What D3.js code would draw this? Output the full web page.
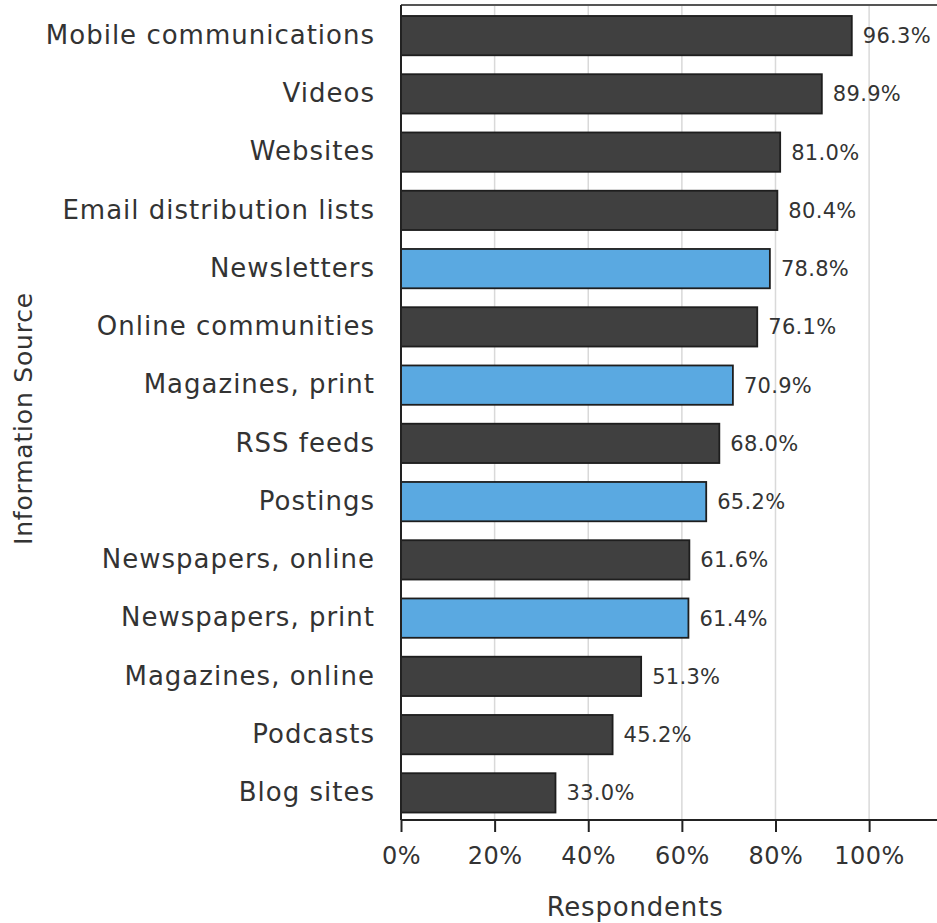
<!DOCTYPE html>
<html>
<head>
<meta charset="utf-8">
<script src="https://cdn.jsdelivr.net/npm/d3@7"></script>
<style>
  html, body { margin: 0; padding: 0; background: #fff; }
  svg { display: block; }
  text { font-family: "DejaVu Sans", "Century Gothic", sans-serif; fill: #333; }
</style>
</head>
<body>
<script>
// Information sources, top to bottom
const categories = [
  "Mobile communications", "Videos", "Websites", "Email distribution lists",
  "Newsletters", "Online communities", "Magazines, print", "RSS feeds",
  "Postings", "Newspapers, online", "Newspapers, print", "Magazines, online",
  "Podcasts", "Blog sites"
];
// Share of respondents (%)
const values = [96.3, 89.9, 81.0, 80.4, 78.8, 76.1, 70.9, 68.0, 65.2, 61.6, 61.4, 51.3, 45.2, 33.0];
// Highlighted (print / traditional) sources
const highlighted = ["Newsletters", "Magazines, print", "Postings", "Newspapers, print"];
const xTicks = [0, 20, 40, 60, 80, 100];

const W = 937, H = 923;
const plotLeft = 401, plotRight = 937, plotTop = 5, plotBottom = 820;

const svg = d3.select("body").append("svg").attr("width", W).attr("height", H);

const x = d3.scaleLinear().domain([0, 114.5]).range([plotLeft, plotRight]);
const y = d3.scaleBand().domain(categories).range([6.5, 822])
  .paddingInner(0.325).paddingOuter(0.1625);

// vertical gridlines
svg.append("g").selectAll("line").data(xTicks.slice(1)).join("line")
  .attr("x1", d => x(d)).attr("x2", d => x(d))
  .attr("y1", plotTop).attr("y2", plotBottom)
  .attr("stroke", "#d9d9d9").attr("stroke-width", 1.5);

// bars
svg.append("g").selectAll("rect").data(values).join("rect")
  .attr("x", x(0))
  .attr("y", (d, i) => y(categories[i]))
  .attr("width", d => x(d) - x(0))
  .attr("height", y.bandwidth())
  .attr("fill", (d, i) => highlighted.includes(categories[i]) ? "#5aa9e1" : "#404040")
  .attr("stroke", "#1e1e1e").attr("stroke-width", 1.8);

// value labels
svg.append("g").selectAll("text").data(values).join("text")
  .attr("x", d => x(d) + 11)
  .attr("y", (d, i) => y(categories[i]) + y.bandwidth() / 2)
  .attr("dy", "0.36em")
  .attr("font-size", 21)
  .attr("letter-spacing", 0.3)
  .text(d => d.toFixed(1) + "%");

// frame: top edge
svg.append("line").attr("x1", plotLeft).attr("x2", plotRight).attr("y1", plotTop).attr("y2", plotTop)
  .attr("stroke", "#555").attr("stroke-width", 2);

// y axis
const yAxis = svg.append("g").attr("transform", `translate(${plotLeft},0)`)
  .call(d3.axisLeft(y).tickSize(0).tickPadding(26));
yAxis.select(".domain").attr("stroke", "#222").attr("stroke-width", 2)
  .attr("d", `M0,${plotTop}V${plotBottom}`);
yAxis.selectAll("text").attr("font-size", 26).attr("letter-spacing", 1).attr("fill", "#333");

// x axis
const xAxis = svg.append("g").attr("transform", `translate(0,${plotBottom})`)
  .call(d3.axisBottom(x).tickValues(xTicks).tickFormat(d => d + "%").tickSize(12).tickPadding(15));
xAxis.select(".domain").attr("stroke", "#222").attr("stroke-width", 2)
  .attr("d", `M${plotLeft},0H${plotRight}`);
xAxis.selectAll(".tick line").attr("stroke", "#222").attr("stroke-width", 2);
xAxis.selectAll("text").attr("font-size", 24).attr("letter-spacing", 0.5).attr("fill", "#333");

// axis titles
svg.append("text").attr("x", x(50)).attr("y", 916)
  .attr("text-anchor", "middle").attr("font-size", 26).attr("letter-spacing", 0.8).text("Respondents");
svg.append("text")
  .attr("transform", `translate(32,${(plotTop + plotBottom) / 2 + 6}) rotate(-90)`)
  .attr("text-anchor", "middle").attr("font-size", 25).attr("letter-spacing", 0.8).text("Information Source");
</script>
</body>
</html>
